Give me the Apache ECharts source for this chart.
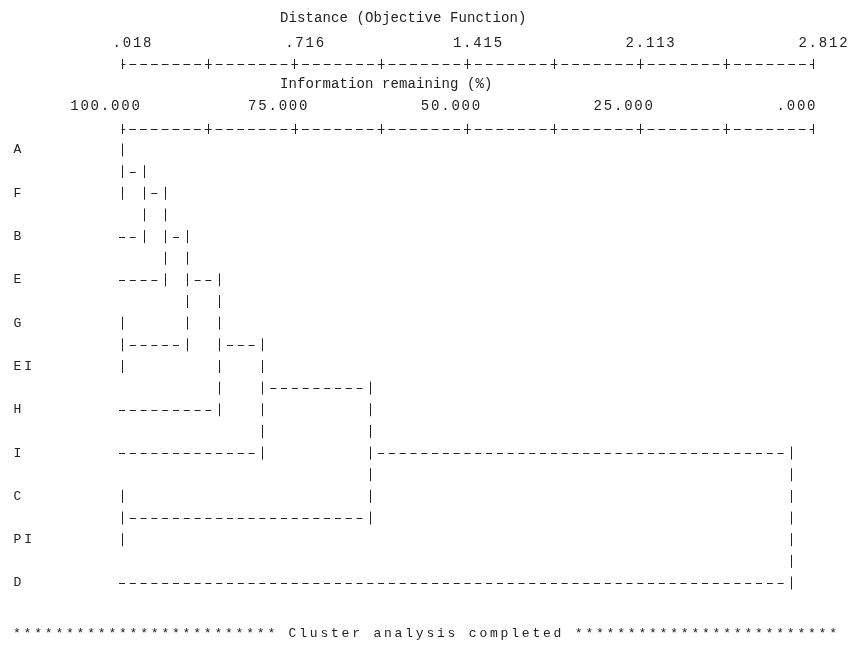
<!DOCTYPE html>
<html>
<head>
<meta charset="utf-8">
<style>
  html, body { margin: 0; padding: 0; background: #fff; }
  #main { width: 850px; height: 652px; }
</style>
<script src="https://cdn.jsdelivr.net/npm/echarts@6/dist/echarts.min.js"></script>
</head>
<body>
<div id="main"></div>
<script>
// leaves in dendrogram order, top to bottom
var leaves = ['A', 'F', 'B', 'E', 'G', 'EI', 'H', 'I', 'C', 'PI', 'D'];
// fusions: ids 0..10 are the leaves, each fusion makes the next id (11, 12, ...)
var joinLeft  = [0, 11, 12, 4, 13, 15, 16, 8, 17, 19];
var joinRight = [1, 2, 3, 5, 14, 6, 7, 9, 18, 10];
var joinDist  = [0.018, 0.105, 0.193, 0.018, 0.280, 0.411, 0.586, 0.018, 1.022, 2.725];

var distTicks  = [0.018, 0.367, 0.716, 1.065, 1.415, 1.764, 2.113, 2.462, 2.812];
var distLabels = [0.018, 0.716, 1.415, 2.113, 2.812];
var infoTicks  = [100, 87.5, 75, 62.5, 50, 37.5, 25, 12.5, 0];
var infoLabels = [100, 75, 50, 25, 0];

var ink = '#222';
var MONO = 'Liberation Mono';

// build the link list: [xA, yA, xB, yB, xJoin, A is leaf, B is leaf]
var nodeX = leaves.map(function () { return distTicks[0]; });
var nodeY = leaves.map(function (l, i) { return i; });
var links = [];
joinLeft.forEach(function (a, k) {
  var b = joinRight[k];
  links.push([nodeX[a], nodeY[a], nodeX[b], nodeY[b], joinDist[k],
    a < leaves.length ? 1 : 0, b < leaves.length ? 1 : 0]);
  nodeX.push(joinDist[k]);
  // text output puts the join on a whole or half line
  nodeY.push(Math.floor(nodeY[a] + nodeY[b]) / 2);
});

// one rich token per character so text keeps a fixed pitch
function mono(s, tag) {
  return s.split('').map(function (c) { return '{' + tag + '|' + c + '}'; }).join('');
}
function cell(size, w) {
  return { width: w, align: 'center', fontFamily: MONO, fontSize: size, fontWeight: 'normal', color: ink };
}
var rich = { m: cell(14, 10.2), t: cell(14, 8.5), r: cell(13, 10.8), b: cell(13, 10.6) };

function fmt(v) { return mono(v.toFixed(3).replace(/^0/, ''), 'm'); }

function px(v) { return Math.round(v) + 0.5; }

function renderItem(params, api) {
  var pMin = api.coord([distTicks[0], 0]);
  var pMax = api.coord([distTicks[distTicks.length - 1], 1]);
  var cw = (pMax[0] - pMin[0]) / 64;   // one character column
  var hl = (pMax[1] - pMin[1]) / 2;    // one text line
  var xm = api.value(4);
  var top = api.coord([xm, api.value(1)]);
  var bot = api.coord([xm, api.value(3)]);
  var kids = [{
    type: 'line',
    shape: { x1: px(top[0]), y1: top[1] - 6.5, x2: px(bot[0]), y2: bot[1] + 6.5 },
    style: { stroke: ink, lineWidth: 1, lineDash: [13, hl - 13] }
  }];
  [[0, 1, 5], [2, 3, 6]].forEach(function (c) {
    var p = api.coord([api.value(c[0]), api.value(c[1])]);
    var start = api.value(c[2]) ? p[0] - 3 : p[0] + cw - 3;
    var end = top[0] - cw + 3;
    if (end > start) {
      kids.push({
        type: 'line',
        shape: { x1: start, y1: px(p[1]), x2: end, y2: px(p[1]) },
        style: { stroke: ink, lineWidth: 1, lineDash: [6, cw - 6] }
      });
    }
  });
  return { type: 'group', children: kids };
}

function ruler(min, max, offset, ticks, labels, inverse, pad, margin) {
  return [{
    type: 'value', position: 'top', offset: offset, min: min, max: max, inverse: inverse,
    axisLine: { show: true, onZero: false, lineStyle: { color: ink, width: 1, type: [6, 4.8], dashOffset: 3 } },
    axisTick: { show: true, customValues: ticks, length: 5, lineStyle: { color: ink } },
    axisLabel: { customValues: labels, formatter: fmt, margin: margin, padding: pad, rich: rich },
    splitLine: { show: false }
  }, {
    type: 'value', position: 'top', offset: offset, min: min, max: max, inverse: inverse,
    axisLine: { show: false, onZero: false },
    axisTick: { show: true, inside: true, customValues: ticks, length: 5, lineStyle: { color: ink } },
    axisLabel: { show: false },
    splitLine: { show: false }
  }];
}

var chart = echarts.init(document.getElementById('main'));
chart.setOption({
  animation: false,
  backgroundColor: '#fff',
  title: [
    { text: mono('Distance (Objective Function)', 't'), left: 280, top: 11, padding: 0, textStyle: { rich: rich } },
    { text: mono('Information remaining (%)', 't'), left: 280, top: 77, padding: 0, textStyle: { rich: rich } },
    { text: mono('************************* Cluster analysis completed *************************', 'b'),
      left: 'center', top: 627, padding: 0, textStyle: { rich: rich } }
  ],
  grid: { left: 122, right: 37, top: 150, bottom: 69, containLabel: false, outerBoundsMode: 'none' },
  xAxis: ruler(distTicks[0], distTicks[distTicks.length - 1], 86, distTicks, distLabels, false, [0, 0, 0, 20], 14)
    .concat(ruler(0, 100, 21, infoTicks, infoLabels, true, [0, 34, 0, 0], 16)),
  yAxis: {
    type: 'value', min: 0, max: leaves.length - 1, interval: 1, inverse: true,
    axisLine: { show: false }, axisTick: { show: false }, splitLine: { show: false },
    axisLabel: {
      align: 'left', margin: 110, rich: rich,
      formatter: function (v) { return mono(leaves[v], 'r'); }
    }
  },
  series: [{
    type: 'custom',
    xAxisIndex: 0, yAxisIndex: 0,
    renderItem: renderItem,
    encode: { x: [0, 2, 4], y: [1, 3] },
    clip: false,
    silent: true,
    data: links
  }]
});
</script>
</body>
</html>
